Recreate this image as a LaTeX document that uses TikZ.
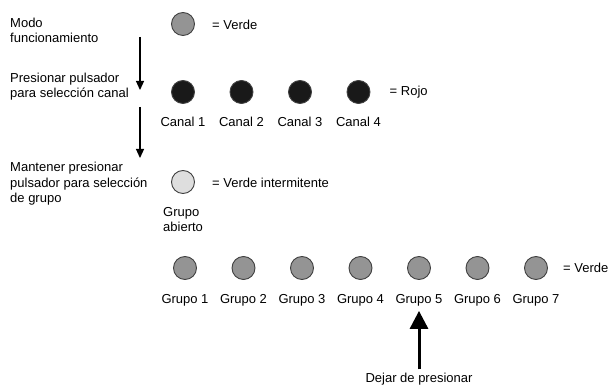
\documentclass[tikz,border=0pt]{standalone}
\usepackage{fontspec}
\setmainfont{Liberation Sans}
\usetikzlibrary{arrows.meta}

\begin{document}
\begin{tikzpicture}[x=1pt,y=-1pt]
	\tikzstyle{led}=[circle,draw=black!75,line width=0.9pt,minimum size=23pt,inner sep=0pt]
	\tikzstyle{green}=[led,fill=black!42]
	\tikzstyle{red}=[led,fill=black!90]
	\tikzstyle{blink}=[led,fill=black!13]
	\tikzstyle{txt}=[font=\fontsize{13}{15.5}\selectfont,inner sep=0pt,align=left]
	\tikzstyle{flow}=[line width=1.2pt,-{Triangle[width=8pt,length=9pt]}]
	\tikzstyle{push}=[line width=3pt,-{Triangle[width=18pt,length=18pt]}]
	\def\dx{58.5};
	\def\xa{183};
	\def\xg{185};

	\useasboundingbox [fill=white] (0,0) rectangle (611,387);

	% left column (base = last line)
	\begin{scope}
		\node [txt,anchor=base west] (modo) at (10,43) {Modo\\funcionamiento};
		\node [txt,anchor=base west] (canal) at (10,98) {Presionar pulsador\\para selección canal};
		\node [txt,anchor=base west] (grupo) at (10,203) {Mantener presionar\\pulsador para selección\\de grupo};
		\coordinate (a1top) at (140,37);
		\coordinate (a1tip) at (140,90);
		\coordinate (a2top) at (140,107);
		\coordinate (a2tip) at (140,158);
		\draw [flow] (a1top) -- (a1tip);
		\draw [flow] (a2top) -- (a2tip);
	\end{scope}

	% operating mode
	\begin{scope}
		\node [green] (mode) at (\xa,24) {};
		\node [txt,anchor=west] (modekey) at (212,25) {= Verde};
	\end{scope}

	% channels
	\begin{scope}
		\foreach \i in {1,...,4}
		{
			\node [red] (c\i) at ({\xa+(\i-1)*\dx},92) {};
			\node [txt,anchor=base] (cl\i) at ({\xa+(\i-1)*\dx},127) {Canal \i};
		}
		\node [txt,anchor=west] (redkey) at ([xshift=31pt]c4.center) {= Rojo};
	\end{scope}

	% open group
	\begin{scope}
		\node [blink] (open) at (\xa,182) {};
		\node [txt,anchor=west] (blinkkey) at (212,183) {= Verde intermitente};
		\node [txt,anchor=base west] (openlbl) at (163,232) {Grupo\\abierto};
	\end{scope}

	% groups
	\begin{scope}
		\foreach \i in {1,...,7}
		{
			\node [green] (g\i) at ({\xg+(\i-1)*\dx},268) {};
			\node [txt,anchor=base] (gl\i) at ({\xg+(\i-1)*\dx},304) {Grupo \i};
		}
		\node [txt,anchor=west] (greenkey) at ([xshift=27pt]g7.center) {= Verde};
	\end{scope}

	% release
	\begin{scope}
		\node [txt,anchor=base] (release) at (gl5.south |- 0,383) {Dejar de presionar};
		\draw [push,shorten <=4pt,shorten >=4pt] (release.north) -- (gl5.south);
	\end{scope}
\end{tikzpicture}
\end{document}
